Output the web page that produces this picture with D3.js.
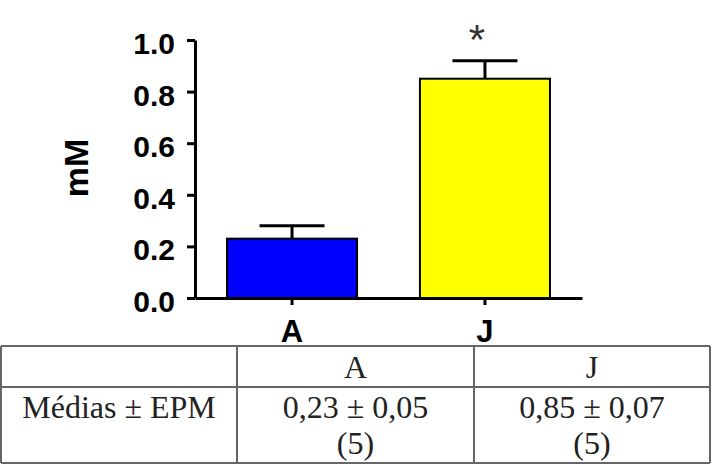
<!DOCTYPE html>
<html>
<head>
<meta charset="utf-8">
<script src="https://cdn.jsdelivr.net/npm/d3@7"></script>
<style>
  body { margin: 0; background: #fff; }
  svg { display: block; }
</style>
</head>
<body>
<script>
// data
var categories = ["A", "J"];
var means = [0.23, 0.85];
var sems = [0.05, 0.07];
var nValues = [5, 5];
var barColors = ["#0000ff", "#ffff00"];
var significant = [false, true];
var yTicks = [0, 0.2, 0.4, 0.6, 0.8, 1.0];
var rowLabel = "Médias ± EPM";

var w = 718, h = 464;

var data = categories.map(function(c, i) {
  return { key: c, mean: means[i], sem: sems[i], n: nValues[i], color: barColors[i], sig: significant[i] };
});

var svg = d3.select("body").append("svg")
  .attr("width", w)
  .attr("height", h);

// scales
var xScale = d3.scaleBand()
  .domain(categories)
  .range([195, 582])
  .paddingInner(0.326)
  .paddingOuter(0.166);
var yScale = d3.scaleLinear()
  .domain([0, 1])
  .range([298, 40]);

// bars
svg.selectAll("rect.bar")
  .data(data)
  .enter()
  .append("rect")
  .attr("class", "bar")
  .attr("x", function(d) { return xScale(d.key); })
  .attr("y", function(d) { return yScale(d.mean); })
  .attr("width", xScale.bandwidth())
  .attr("height", function(d) { return yScale(0) - yScale(d.mean); })
  .attr("fill", function(d) { return d.color; })
  .attr("stroke", "#000")
  .attr("stroke-width", 2);

// error bars (upper only)
var err = svg.selectAll("g.err")
  .data(data)
  .enter()
  .append("g")
  .attr("class", "err")
  .attr("stroke", "#000")
  .attr("stroke-width", 3);
err.append("line")
  .attr("x1", function(d) { return xScale(d.key) + xScale.bandwidth() / 2; })
  .attr("x2", function(d) { return xScale(d.key) + xScale.bandwidth() / 2; })
  .attr("y1", function(d) { return yScale(d.mean); })
  .attr("y2", function(d) { return yScale(d.mean + d.sem); });
err.append("line")
  .attr("x1", function(d) { return xScale(d.key) + xScale.bandwidth() / 2 - 32.5; })
  .attr("x2", function(d) { return xScale(d.key) + xScale.bandwidth() / 2 + 32.5; })
  .attr("y1", function(d) { return yScale(d.mean + d.sem); })
  .attr("y2", function(d) { return yScale(d.mean + d.sem); });

// asterisk above significant bar
svg.selectAll("text.sig")
  .data(data.filter(function(d) { return d.sig; }))
  .enter()
  .append("text")
  .attr("class", "sig")
  .attr("x", function(d) { return xScale(d.key) + xScale.bandwidth() / 2 - 8; })
  .attr("y", function(d) { return yScale(d.mean + d.sem) - 7; })
  .attr("text-anchor", "middle")
  .attr("font-family", "Liberation Sans, Arial, sans-serif")
  .attr("font-size", 42)
  .attr("fill", "#333")
  .text("*");

// axes
var yAxis = d3.axisLeft(yScale)
  .tickValues(yTicks)
  .tickFormat(d3.format(".1f"))
  .tickSize(8)
  .tickSizeOuter(0)
  .tickPadding(12);
var xAxis = d3.axisBottom(xScale)
  .tickSize(7)
  .tickSizeOuter(0)
  .tickPadding(15);

var gy = svg.append("g")
  .attr("class", "yaxis")
  .attr("transform", "translate(195,0)")
  .call(yAxis);
var gx = svg.append("g")
  .attr("class", "xaxis")
  .attr("transform", "translate(0,298)")
  .call(xAxis);

svg.selectAll(".yaxis path, .yaxis line, .xaxis path, .xaxis line")
  .attr("stroke", "#000")
  .attr("stroke-width", 3);
gy.selectAll("text")
  .attr("font-family", "Liberation Sans, Arial, sans-serif")
  .attr("font-weight", "bold")
  .attr("font-size", 30)
  .attr("fill", "#000")
  .attr("dy", "0.45em");
gx.selectAll("text")
  .attr("font-family", "Liberation Sans, Arial, sans-serif")
  .attr("font-weight", "bold")
  .attr("font-size", 31)
  .attr("fill", "#000");

// y axis title
svg.append("text")
  .attr("transform", "translate(76,168) rotate(-90)")
  .attr("text-anchor", "middle")
  .attr("dy", "0.35em")
  .attr("font-family", "Liberation Sans, Arial, sans-serif")
  .attr("font-weight", "bold")
  .attr("font-size", 34)
  .text("mM");

// table under the chart
var colX = [1, 237, 474, 710];
var rowY = [346, 387, 463];
var table = svg.append("g").attr("class", "table");
table.selectAll("line.h")
  .data(rowY)
  .enter()
  .append("line")
  .attr("x1", colX[0]).attr("x2", colX[3])
  .attr("y1", function(d) { return d; }).attr("y2", function(d) { return d; })
  .attr("stroke", "#666").attr("stroke-width", 2);
table.selectAll("line.v")
  .data(colX)
  .enter()
  .append("line")
  .attr("x1", function(d) { return d; }).attr("x2", function(d) { return d; })
  .attr("y1", rowY[0]).attr("y2", rowY[2])
  .attr("stroke", "#666").attr("stroke-width", 2);

var fmt = function(v) { return d3.format(".2f")(v).replace(".", ","); };
var cellFont = "Liberation Serif, Times New Roman, serif";

function cell(x, y, s) {
  table.append("text")
    .attr("x", x).attr("y", y)
    .attr("text-anchor", "middle")
    .attr("font-family", cellFont)
    .attr("font-size", 32)
    .attr("fill", "#222")
    .text(s);
}

cell((colX[0] + colX[1]) / 2, 418, rowLabel);
data.forEach(function(d, i) {
  var cx = (colX[i + 1] + colX[i + 2]) / 2;
  cell(cx, 378, d.key);
  cell(cx, 418, fmt(d.mean) + " ± " + fmt(d.sem));
  cell(cx, 454, "(" + d.n + ")");
});
</script>
</body>
</html>
